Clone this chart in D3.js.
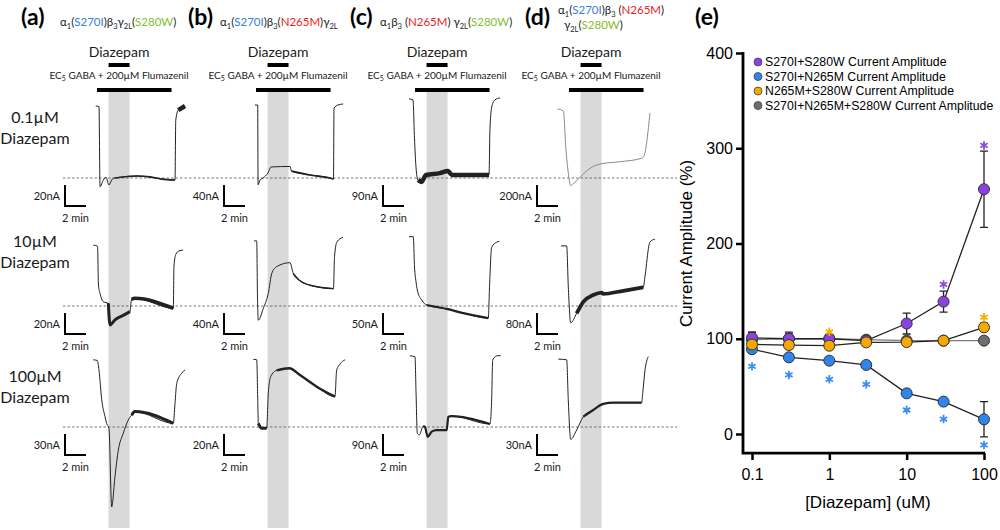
<!DOCTYPE html>
<html>
<head>
<meta charset="utf-8">
<script src="https://cdn.jsdelivr.net/npm/d3@7"></script>
<style>
  body { margin: 0; background: #fff; }
  svg { display: block; }
</style>
</head>
<body>
<svg id="chart" width="1000" height="530"></svg>
<script>
// ---- data: recordings (time in min from GABA+flumazenil onset, current in nA vs EC5 level) ----
const traceA1 = [[-0.12,68.6],[0.19,68],[0.29,-8.3],[0.6,-1.9],[0.86,0.7],[1.14,-6.7],[1.4,-1.9],[1.71,0],[3.81,1.9],[5.05,1],[6.19,-1],[7.43,-1.9],[7.5,55],[7.74,64.7],[8.38,68.6]];
const traceB1 = [[-0.1,139],[0.16,139],[0.2,-13],[0.38,-4],[0.67,0],[1.14,9.5],[1.43,21],[3.24,22],[3.38,13],[5.14,5.7],[7.05,0],[7.38,-2],[7.43,133],[7.8,139],[8.3,141]];
const traceC1 = [[-0.57,339],[-0.19,335],[-0.05,172],[0.1,43],[0.29,-9],[0.62,-17],[1.05,13],[2.38,21],[3.14,30],[3.52,13],[5.24,13],[7.05,13],[7.14,214],[7.33,309],[7.62,335],[8.1,343]];
const traceD1 = [[-1.08,657],[-0.54,638],[-0.29,267],[-0.1,76],[0.16,-73],[0.48,-48],[1.05,7],[2.0,92],[2.95,133],[4.86,155],[6.92,188],[7.14,210],[7.71,620]];

const traceA2 = [[-0.35,58],[0.05,57],[0.14,20],[0.29,12],[0.6,4],[1.08,2.6],[1.24,-18],[1.71,-13.3],[2.5,-8.9],[3.14,-5.4],[3.29,6.4],[3.62,7.3],[7.27,-2.2],[7.33,38],[7.52,49.5],[7.8,52.4],[8.2,53.3]];
const traceB2 = [[-0.19,124],[0.07,124],[0.14,19],[0.22,-27],[0.7,-4.4],[1.17,24],[1.5,62],[1.97,75],[3.24,82.5],[3.55,62],[4.19,48],[5.46,38],[7.38,33],[7.48,95],[7.71,122],[8.29,131]];
const traceC2 = [[-0.57,165],[-0.16,165],[-0.05,95],[0.1,57],[0.22,38],[0.64,14],[1.11,2.4],[3.02,-7],[4.6,-17],[6.98,-29],[7.1,48],[7.3,140],[7.78,152],[8.03,154]];
const traceD2 = [[-0.76,229],[-0.22,229],[-0.07,76],[0.16,-64],[0.73,-28],[1.36,16],[2.31,42],[3.11,51],[3.24,46],[5.17,58],[7.08,71],[7.24,114],[7.71,244],[8.19,255]];

const traceA3 = [[-0.35,96],[0.03,95],[0.19,81],[0.45,39],[0.76,15],[0.92,5],[1.14,-2],[1.4,-114],[1.71,-71],[2.03,-33],[2.5,-9],[2.98,10],[3.3,17],[3.62,22],[7.27,5.3],[7.43,34],[7.59,62],[8.07,77],[8.38,81.5]];
const traceB3 = [[-0.26,64.5],[0.07,64],[0.16,28.6],[0.22,3.5],[0.54,-1.2],[1.02,-1.2],[1.17,32],[1.4,48],[1.97,54],[3.17,56],[4.19,49.5],[5.78,38.4],[7.52,28.9],[7.68,54],[8.0,60],[8.48,64]];
const traceC3 = [[-0.48,305],[0,301],[0.1,145],[0.22,-27],[0.41,-34],[0.79,4],[0.95,0],[1.21,-42],[1.59,-20],[2.07,-13],[3.02,-13],[3.17,44],[3.5,47],[7.14,13],[7.3,116],[7.4,287],[7.78,305],[8.16,306]];
const traceD3 = [[-1.02,97],[-0.22,96],[-0.07,39],[0.16,-17.6],[0.73,-4.3],[1.36,14.7],[2.31,24.3],[3.27,33],[4.22,34.7],[6.92,34.7],[7.02,48],[7.24,81.5],[7.55,100.5]];

const traceGrid = [
  [traceA1, traceB1, traceC1, traceD1],
  [traceA2, traceB2, traceC2, traceD2],
  [traceA3, traceB3, traceC3, traceD3]
];
const scaleBarNA = [[20, 40, 90, 200], [20, 40, 50, 80], [30, 20, 90, 30]];
const rowLabels = [["0.1µM", "Diazepam"], ["10µM", "Diazepam"], ["100µM", "Diazepam"]];
const panelLetters = ["(a)", "(b)", "(c)", "(d)", "(e)"];
const diazepamWindow = [1.1, 3.1];
const gabaWindow = [0, 7.1];
const scaleBarMin = 2;

const titleA = [["α"],["1","sub"],["("],["S270I","blue"],[")β"],["3","sub"],["γ"],["2L","sub"],["("],["S280W","green"],[")"]];
const titleB = [["α"],["1","sub"],["("],["S270I","blue"],[")β"],["3","sub"],["("],["N265M","red"],[")γ"],["2L","sub"]];
const titleC = [["α"],["1","sub"],["β"],["3","sub"],[" ("],["N265M","red"],[") γ"],["2L","sub"],["("],["S280W","green"],[")"]];
const titleD1 = [["α"],["1","sub"],["("],["S270I","blue"],[")β"],["3","sub"],[" ("],["N265M","red"],[")"]];
const titleD2 = [["γ"],["2L","sub"],["("],["S280W","green"],[")"]];

// ---- data: dose response ----
const concentrations = [0.1, 0.3, 1, 3, 10, 30, 100];
const s270iS280w    = [101, 100, 100, 98, 116, 139, 257];
const s270iS280wErr = [6, 5, 4, 3, 11, 11, 40];
const s270iN265m    = [89, 80.5, 77, 72.5, 42.7, 34, 15.4];
const s270iN265mErr = [4, 3, 3, 3, 3, 3, 18.5];
const n265mS280w    = [94, 93.4, 92.7, 96.2, 96.5, 98, 112];
const n265mS280wErr = [3, 3, 3, 3, 3, 3, 4];
const tripleMut     = [99, 100, 100, 99, 98, 98, 98];
const tripleMutErr  = [8, 7, 4, 3, 2, 2, 2];
const purpleStars = [[30, 157], [100, 303]];
const blueStars = [[0.1, 71], [0.3, 62], [1, 57.4], [3, 52.2], [10, 25.2], [30, 15.7], [100, -11.5]];
const orangeStars = [[1, 107.3], [100, 122.5]];
const yTicks = [0, 100, 200, 300, 400];
const xTicks = [0.1, 1, 10, 100];
const legendNames = [
  "S270I+S280W Current Amplitude",
  "S270I+N265M Current Amplitude",
  "N265M+S280W Current Amplitude",
  "S270I+N265M+S280W Current Amplitude"
];

// ---- styles ----
const svg = d3.select("#chart");
const ink = "#1a1a1a";
const mutColor = { blue: "#3a7dd6", red: "#e8221c", green: "#84bd2e" };
const leftFont = "Lato, 'Open Sans', sans-serif";
const rightFont = "'Liberation Sans', Arial, sans-serif";
const colX0 = [97, 256, 415, 569];
const rowBase = [178, 306, 427];
const rowLabelY = [116, 240, 375];
const pxPerMin = 10.5, barPx = 21;
// thicker (noisy) stretches of each recording: [t0, t1, width]
const thick = [
  [[[1.7, 7.43, 1.7], [7.6, 8.4, 4.5]], [[3.3, 7.38, 1.7]], [[0.25, 7.05, 4.5]], []],
  [[[1.08, 3.14, 3], [3.29, 7.27, 3.5]], [[3.3, 7.4, 1.4]], [[1.1, 7.0, 2.2]], [[0.5, 7.1, 3.8]]],
  [[[3.3, 7.27, 3]], [[0.2, 1.05, 3], [1.9, 7.52, 2.4]], [[0.79, 7.14, 2.2]], [[1.3, 6.92, 2.2]]]
];

// ---- panels a-d ----
const gFrame = svg.append("g");
const gTrace = svg.append("g");

colX0.forEach((x0, c) => {
  const t = d3.scaleLinear().domain([0, 1]).range([x0, x0 + pxPerMin]);
  const bandMid = (t(diazepamWindow[0]) + t(diazepamWindow[1])) / 2;

  // diazepam band
  gFrame.append("rect")
    .attr("x", t(diazepamWindow[0])).attr("y", 92)
    .attr("width", t(diazepamWindow[1]) - t(diazepamWindow[0])).attr("height", 436)
    .attr("fill", "#d9d9d9");

  gFrame.append("text").attr("x", bandMid).attr("y", 57)
    .attr("text-anchor", "middle").attr("font-family", leftFont).attr("font-size", 14)
    .attr("fill", ink).text("Diazepam");
  gFrame.append("rect")
    .attr("x", t(diazepamWindow[0])).attr("y", 63)
    .attr("width", t(diazepamWindow[1]) - t(diazepamWindow[0])).attr("height", 4)
    .attr("fill", "#000");

  const ec = gFrame.append("text").attr("x", bandMid).attr("y", 79)
    .attr("text-anchor", "middle").attr("font-family", leftFont).attr("font-size", 10)
    .attr("fill", ink).style("white-space", "pre");
  ec.append("tspan").text("EC");
  ec.append("tspan").attr("font-size", 7).attr("dy", 2).text("5");
  ec.append("tspan").attr("dy", -2).text(" GABA + 200µM Flumazenil");

  gFrame.append("rect")
    .attr("x", t(gabaWindow[0])).attr("y", 88)
    .attr("width", t(gabaWindow[1]) - t(gabaWindow[0])).attr("height", 4)
    .attr("fill", "#000");

  rowBase.forEach((base, r) => {
    const nA = scaleBarNA[r][c];
    const y = d3.scaleLinear().domain([0, nA]).range([base, base - barPx]);
    const line = d3.line().x(d => t(d[0])).y(d => y(d[1])).curve(d3.curveMonotoneX);
    const data = traceGrid[r][c];
    const col = (r === 0 && c === 3) ? "#8a8a8a" : "#222";

    gTrace.append("path").datum(data).attr("d", line)
      .attr("fill", "none").attr("stroke", col).attr("stroke-width", 1);
    thick[r][c].forEach(([t0, t1, w]) => {
      const seg = data.filter(d => d[0] >= t0 && d[0] <= t1);
      gTrace.append("path").datum(seg).attr("d", line)
        .attr("fill", "none").attr("stroke", col).attr("stroke-width", w)
        .attr("stroke-linejoin", "round");
    });

    // scale bar
    const cx = x0 - 32, cy = base + 28;
    const h = y(0) - y(nA), w = t(scaleBarMin) - t(0);
    gFrame.append("path")
      .attr("d", `M${cx},${cy - h}V${cy}H${cx + w}`)
      .attr("fill", "none").attr("stroke", "#000").attr("stroke-width", 2);
    gFrame.append("text").attr("x", cx - 5).attr("y", cy - h / 2)
      .attr("dominant-baseline", "central").attr("text-anchor", "end")
      .attr("font-family", leftFont).attr("font-size", 11).attr("fill", ink)
      .text(nA + "nA");
    gFrame.append("text").attr("x", cx + w / 2).attr("y", cy + 11)
      .attr("dominant-baseline", "central").attr("text-anchor", "middle")
      .attr("font-family", leftFont).attr("font-size", 11).attr("fill", ink)
      .text(scaleBarMin + " min");
  });
});

// EC5 baselines
rowBase.forEach(base => {
  gFrame.append("line").attr("x1", 63).attr("x2", 677).attr("y1", base).attr("y2", base)
    .attr("stroke", "#555").attr("stroke-width", 0.8).attr("stroke-dasharray", "2.5,2");
});

// row labels
rowLabels.forEach((lines, r) => {
  lines.forEach((s, i) => {
    svg.append("text").attr("x", 35).attr("y", rowLabelY[r] + i * 21)
      .attr("dominant-baseline", "central").attr("text-anchor", "middle")
      .attr("font-family", leftFont).attr("font-size", 16).attr("fill", ink).text(s);
  });
});

// panel letters
[21, 188, 350, 525, 695].forEach((x, i) => {
  svg.append("text").attr("x", x).attr("y", 25)
    .attr("font-family", leftFont).attr("font-weight", "bold").attr("font-size", 23)
    .attr("fill", "#000").text(panelLetters[i]);
});

// construct titles
function drawTitle(x, y, segs) {
  const txt = svg.append("text").attr("x", x).attr("y", y)
    .attr("font-family", leftFont).attr("font-size", 11.5).attr("fill", ink)
    .style("white-space", "pre");
  let sub = false;
  segs.forEach(([s, kind]) => {
    const isSub = kind === "sub";
    const ts = txt.append("tspan").text(s);
    if (isSub && !sub) ts.attr("dy", 3);
    if (!isSub && sub) ts.attr("dy", -3);
    if (isSub) ts.attr("font-size", 7.5);
    if (mutColor[kind]) ts.attr("fill", mutColor[kind]);
    sub = isSub;
  });
}
drawTitle(60, 26, titleA);
drawTitle(220, 26, titleB);
drawTitle(380, 26, titleC);
drawTitle(558, 14, titleD1);
drawTitle(564, 29, titleD2);

// ---- panel e ----
const x = d3.scaleLog().domain([0.1, 100]).range([752, 984]);
const y = d3.scaleLinear().domain([0, 400]).range([434, 53]);
const axisX = 743, axisY = y(-20);
const ge = svg.append("g");

ge.append("g").attr("transform", `translate(${axisX},0)`)
  .call(d3.axisLeft(y).tickValues(yTicks).tickSize(7).tickPadding(3).tickSizeOuter(0))
  .call(g => g.select(".domain").remove())
  .call(g => g.selectAll(".tick line").attr("stroke", "#000").attr("stroke-width", 2.5))
  .call(g => g.selectAll(".tick text").attr("font-family", rightFont).attr("font-size", 16).attr("fill", "#000"));

ge.append("g").attr("transform", `translate(0,${axisY})`)
  .call(d3.axisBottom(x).tickValues(xTicks).tickFormat(d => d).tickSize(7).tickPadding(9).tickSizeOuter(0))
  .call(g => g.select(".domain").remove())
  .call(g => g.selectAll(".tick line").attr("stroke", "#000").attr("stroke-width", 2.5))
  .call(g => g.selectAll(".tick text").attr("font-family", rightFont).attr("font-size", 16).attr("fill", "#000"));

ge.append("path")
  .attr("d", `M${axisX},${y(400) - 1}V${axisY}H${x(100) + 1}`)
  .attr("fill", "none").attr("stroke", "#000").attr("stroke-width", 2.8);

ge.append("text")
  .attr("transform", `translate(686,${(y(0) + y(400)) / 2}) rotate(-90)`)
  .attr("text-anchor", "middle").attr("dominant-baseline", "central")
  .attr("font-family", rightFont).attr("font-size", 17).attr("fill", "#000")
  .text("Current Amplitude (%)");
ge.append("text").attr("x", x(3.16)).attr("y", 508)
  .attr("text-anchor", "middle").attr("font-family", rightFont).attr("font-size", 17)
  .attr("fill", "#000").text("[Diazepam] (uM)");

const series = [
  { vals: tripleMut, err: tripleMutErr, fill: "#6e6e6e", line: "#7a7a7a" },
  { vals: s270iS280w, err: s270iS280wErr, fill: "#8a42e0", line: "#222" },
  { vals: s270iN265m, err: s270iN265mErr, fill: "#2f84ee", line: "#222" },
  { vals: n265mS280w, err: n265mS280wErr, fill: "#f7a800", line: "#222" }
];

series.forEach(s => {
  const pts = concentrations.map((c, i) => ({ c, v: s.vals[i], e: s.err[i] }));
  ge.selectAll(null).data(pts).join("path")
    .attr("d", d => `M${x(d.c) - 4},${y(d.v + d.e)}H${x(d.c) + 4}M${x(d.c)},${y(d.v + d.e)}V${y(d.v - d.e)}M${x(d.c) - 4},${y(d.v - d.e)}H${x(d.c) + 4}`)
    .attr("fill", "none").attr("stroke", "#222").attr("stroke-width", 1.3);
});
series.forEach(s => {
  const pts = concentrations.map((c, i) => ({ c, v: s.vals[i] }));
  ge.append("path").datum(pts)
    .attr("d", d3.line().x(d => x(d.c)).y(d => y(d.v)))
    .attr("fill", "none").attr("stroke", s.line).attr("stroke-width", 1.3);
});
series.forEach(s => {
  const pts = concentrations.map((c, i) => ({ c, v: s.vals[i] }));
  ge.selectAll(null).data(pts).join("circle")
    .attr("cx", d => x(d.c)).attr("cy", d => y(d.v)).attr("r", 5.5)
    .attr("fill", s.fill).attr("stroke", "#333").attr("stroke-width", 1);
});

const star = d3.symbol(d3.symbolAsterisk, 50);
[[purpleStars, "#8a4fd8"], [blueStars, "#3a8ef5"], [orangeStars, "#f5b100"]].forEach(([pts, col]) => {
  ge.selectAll(null).data(pts).join("path")
    .attr("transform", d => `translate(${x(d[0])},${y(d[1])})`)
    .attr("d", star).attr("fill", "none").attr("stroke", col).attr("stroke-width", 1.8);
});

// legend
const legendFill = ["#8a42e0", "#2f84ee", "#f7a800", "#6e6e6e"];
legendNames.forEach((name, i) => {
  const ly = 62 + i * 14.5;
  ge.append("circle").attr("cx", 758).attr("cy", ly).attr("r", 4)
    .attr("fill", legendFill[i]).attr("stroke", "#444").attr("stroke-width", 0.8);
  ge.append("text").attr("x", 765).attr("y", ly).attr("dominant-baseline", "central")
    .attr("font-family", rightFont).attr("font-size", 12.3).attr("fill", "#000").text(name);
});
</script>
</body>
</html>
